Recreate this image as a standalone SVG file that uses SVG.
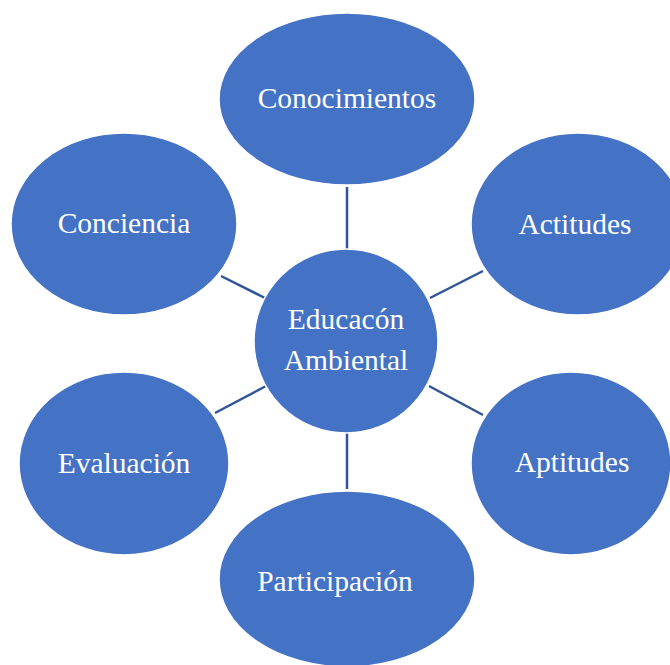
<svg xmlns="http://www.w3.org/2000/svg" width="670" height="665" viewBox="0 0 670 665">
<style>
.n{fill:#4472C4;stroke:#FFFFFF;stroke-width:1.5}
.t{fill:#FFFFFF;font-family:"Liberation Serif","Times New Roman","DejaVu Serif",serif;font-size:29.5px;text-anchor:middle}
.c line{stroke:#2F5597;stroke-width:2.5}
</style>
<rect width="670" height="665" fill="#FFFFFF"/>
<g id="connectors" class="c">
<line x1="347" y1="187" x2="347" y2="249"/>
<line x1="221" y1="276" x2="265" y2="298"/>
<line x1="430" y1="298" x2="483" y2="271"/>
<line x1="215" y1="413" x2="266" y2="386"/>
<line x1="429" y1="386" x2="483" y2="415"/>
<line x1="347" y1="433" x2="347" y2="489"/>
</g>
<g id="center">
<circle class="n" cx="346" cy="341" r="92"/>
<text class="t" x="346" y="329">Educacón</text>
<text class="t" x="346" y="370">Ambiental</text>
</g>
<g id="conocimientos">
<ellipse class="n" cx="347" cy="99" rx="128" ry="86"/>
<text class="t" x="347" y="108">Conocimientos</text>
</g>
<g id="conciencia">
<ellipse class="n" cx="124" cy="224" rx="113" ry="91"/>
<text class="t" x="124" y="233">Conciencia</text>
</g>
<g id="actitudes">
<ellipse class="n" cx="578" cy="224" rx="107" ry="91"/>
<text class="t" x="575" y="234">Actitudes</text>
</g>
<g id="evaluacion">
<ellipse class="n" cx="124" cy="463.5" rx="105" ry="91.5"/>
<text class="t" x="124" y="473">Evaluación</text>
</g>
<g id="aptitudes">
<ellipse class="n" cx="571" cy="463.5" rx="100" ry="91.5"/>
<text class="t" x="572" y="472">Aptitudes</text>
</g>
<g id="participacion">
<ellipse class="n" cx="347" cy="579" rx="128" ry="88"/>
<text class="t" x="335" y="591">Participación</text>
</g>
</svg>
